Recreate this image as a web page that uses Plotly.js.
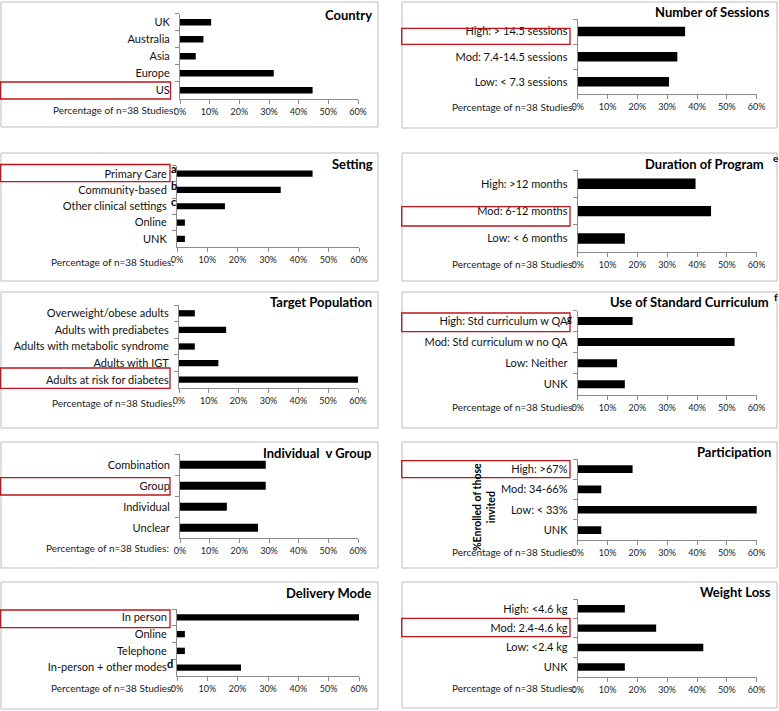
<!DOCTYPE html>
<html>
<head>
<meta charset="utf-8">
<script src="https://cdn.plot.ly/plotly-3.0.1.min.js"></script>
<style>
  html, body { margin: 0; padding: 0; background: #ffffff; }
  #chart { width: 779px; height: 711px; }
</style>
</head>
<body>
<div id="chart"></div>
<script>
// ---------------- DATA ----------------
const countryCats = ["UK", "Australia", "Asia", "Europe", "US"];
const countryVals = [10.5, 7.9, 5.3, 31.6, 44.7];

const settingCats = ["Primary Care", "Community-based", "Other clinical settings", "Online", "UNK"];
const settingVals = [44.7, 34.2, 15.8, 2.6, 2.6];

const targetCats = ["Overweight/obese adults", "Adults with prediabetes", "Adults with metabolic syndrome", "Adults with IGT", "Adults at risk for diabetes"];
const targetVals = [5.3, 15.8, 5.3, 13.2, 60.5];

const indivCats = ["Combination", "Group", "Individual", "Unclear"];
const indivVals = [28.9, 28.9, 15.8, 26.3];

const deliveryCats = ["In person", "Online", "Telephone", "In-person + other modes"];
const deliveryVals = [60.5, 2.6, 2.6, 21.1];

const sessionsCats = ["High: > 14.5 sessions", "Mod: 7.4-14.5 sessions", "Low: < 7.3 sessions"];
const sessionsVals = [36.0, 33.4, 30.6];

const durationCats = ["High: >12 months", "Mod: 6-12 months", "Low: < 6 months"];
const durationVals = [39.5, 44.7, 15.8];

const curriculumCats = ["High: Std curriculum w QA", "Mod: Std curriculum w no QA", "Low: Neither", "UNK"];
const curriculumVals = [18.4, 52.6, 13.2, 15.8];

const participationCats = ["High: >67%", "Mod: 34-66%", "Low: < 33%", "UNK"];
const participationVals = [18.4, 7.9, 60.5, 7.9];

const weightCats = ["High: <4.6 kg", "Mod: 2.4-4.6 kg", "Low: <2.4 kg", "UNK"];
const weightVals = [15.8, 26.3, 42.1, 15.8];

const xTickVals = [0, 10, 20, 30, 40, 50, 60];
const xTickText = ["0%", "10%", "20%", "30%", "40%", "50%", "60%"];
const axisNote = "Percentage of n=38 Studies:";

// ---------------- LAYOUT (pixel positions) ----------------
const W = 779, H = 711;
const FONT = "Lato, 'Open Sans', 'DejaVu Sans', sans-serif";
const px = v => v / W;
const py = v => 1 - v / H;

const panels = [
  {cats: countryCats, vals: countryVals, title: "Country",
   x0: 180, x1: 358, yt: 13.8, yb: 98.8, tickY: 110, titleX: 374, titleY: 15, noteX: 178,
   box: [1, 2, 378, 127], red: [0.5, 82, 170.5, 99], shift: 0},
  {cats: settingCats, vals: settingVals, title: "Setting",
   x0: 177, x1: 359, yt: 165.5, yb: 247, tickY: 262, titleX: 375, titleY: 164, noteX: 176,
   box: [1, 153, 378, 281], red: [0.5, 164.5, 170, 181.7], shift: 0},
  {cats: targetCats, vals: targetVals, title: "Target Population",
   x0: 179, x1: 358, yt: 305, yb: 388, tickY: 403, titleX: 374, titleY: 302, noteX: 177,
   box: [1, 292, 378, 428], red: [0.5, 368, 170, 388.3], shift: 0},
  {cats: indivCats, vals: indivVals, title: "Individual  v Group",
   x0: 180, x1: 358, yt: 454.3, yb: 538.3, tickY: 548, titleX: 373, titleY: 453, noteX: 171,
   box: [1, 442, 378, 568], red: [0.5, 477.7, 170, 495], shift: 0},
  {cats: deliveryCats, vals: deliveryVals, title: "Delivery Mode",
   x0: 177, x1: 359, yt: 609, yb: 676, tickY: 688, titleX: 373, titleY: 593, noteX: 176,
   box: [1, 582, 378, 709], red: [0.5, 610, 170, 627.7], shift: 0},
  {cats: sessionsCats, vals: sessionsVals, title: "Number of Sessions",
   x0: 577.7, x1: 756.7, yt: 19, yb: 94.3, tickY: 107, titleX: 772, titleY: 12, noteX: 577,
   box: [402, 2, 777, 128], red: [401.7, 28.3, 570, 44.3], shift: 4.5},
  {cats: durationCats, vals: durationVals, title: "Duration of Program",
   x0: 577.7, x1: 756.7, yt: 170, yb: 252.3, tickY: 264, titleX: 766, titleY: 164, noteX: 577,
   box: [402, 153, 777, 281], red: [401.7, 206.7, 570, 226], shift: 5.5},
  {cats: curriculumCats, vals: curriculumVals, title: "Use of Standard Curriculum",
   x0: 577.7, x1: 756.7, yt: 310.5, yb: 394.8, tickY: 407, titleX: 771, titleY: 302, noteX: 577,
   box: [402, 292, 777, 428], red: [401.7, 313, 570, 331.7], shift: 2.5},
  {cats: participationCats, vals: participationVals, title: "Participation",
   x0: 577.7, x1: 756.7, yt: 459, yb: 540.2, tickY: 552, titleX: 773, titleY: 452, noteX: 577,
   box: [402, 442, 777, 568], red: [401.7, 460.7, 570, 477.7], shift: 2.5},
  {cats: weightCats, vals: weightVals, title: "Weight Loss",
   x0: 577.7, x1: 756.7, yt: 599, yb: 676.7, tickY: 688, titleX: 773, titleY: 592, noteX: 577,
   box: [402, 582, 777, 708], red: [401.7, 618.3, 570, 636.7], shift: 0}
];

const data = [];
const layout = {
  width: W, height: H,
  margin: {l: 0, r: 0, t: 0, b: 0, pad: 0},
  paper_bgcolor: "#ffffff",
  plot_bgcolor: "rgba(0,0,0,0)",
  showlegend: false,
  font: {family: FONT, color: "#111111"},
  annotations: [],
  shapes: []
};

panels.forEach((p, i) => {
  const n = i + 1;
  const xa = "x" + n, ya = "y" + n;
  data.push({
    type: "bar", orientation: "h",
    x: p.vals, y: p.cats,
    xaxis: xa, yaxis: ya,
    width: 0.38,
    marker: {color: "#000000"},
    hoverinfo: "skip"
  });
  const standoff = Math.max(0, (p.tickY - p.yb) - 11.5);
  layout["xaxis" + n] = {
    domain: [px(p.x0), px(p.x1)],
    anchor: ya,
    range: [0, 60],
    tickmode: "array", tickvals: xTickVals, ticktext: xTickText,
    showgrid: false, zeroline: false,
    showline: true, linecolor: "#8c8c8c", linewidth: 1,
    ticks: "outside", ticklen: 4, tickcolor: "#8c8c8c",
    tickfont: {size: 9, family: FONT, color: "#222222"},
    ticklabelstandoff: standoff,
    fixedrange: true
  };
  layout["yaxis" + n] = {
    domain: [py(p.yb), py(p.yt)],
    anchor: xa,
    type: "category",
    categoryorder: "array", categoryarray: p.cats,
    range: [p.cats.length - 0.5, -0.5],
    tickson: "boundaries",
    showgrid: false, zeroline: false,
    showline: true, linecolor: "#8c8c8c", linewidth: 1,
    ticks: "outside", ticklen: 4, tickcolor: "#8c8c8c",
    tickfont: {size: 11, family: FONT, color: "#111111"},
    ticklabelshift: p.shift,
    ticklabelstandoff: 7,
    fixedrange: true
  };
  // panel border
  layout.shapes.push({
    type: "rect", xref: "paper", yref: "paper", layer: "below",
    x0: px(p.box[0]), x1: px(p.box[2]), y0: py(p.box[3]), y1: py(p.box[1]),
    line: {color: "#bdbdbd", width: 1}, fillcolor: "rgba(0,0,0,0)"
  });
  // red highlight box
  layout.shapes.push({
    type: "rect", xref: "paper", yref: "paper", layer: "above",
    x0: px(p.red[0]), x1: px(p.red[2]), y0: py(p.red[3]), y1: py(p.red[1]),
    line: {color: "#c0141c", width: 1.3}, fillcolor: "rgba(0,0,0,0)"
  });
  // panel title
  layout.annotations.push({
    xref: "paper", yref: "paper", x: px(p.titleX), y: py(p.titleY),
    xanchor: "right", yanchor: "middle", showarrow: false,
    text: "<b>" + p.title + "</b>",
    font: {size: 13, family: FONT, color: "#000000"}
  });
  // axis note
  layout.annotations.push({
    xref: "paper", yref: "paper", x: px(p.noteX), y: py(p.tickY),
    xanchor: "right", yanchor: "middle", showarrow: false,
    text: axisNote,
    font: {size: 10, family: FONT, color: "#222222"}
  });
});

// superscript footnote letters
const notes = [
  {t: "a", x: 173.5, y: 168, s: 11},
  {t: "b", x: 173.5, y: 185, s: 11},
  {t: "c", x: 173.5, y: 201, s: 11},
  {t: "d", x: 170, y: 663, s: 11},
  {t: "e", x: 776, y: 158, s: 10},
  {t: "f", x: 776, y: 297, s: 10},
  {t: "g", x: 569, y: 319, s: 9}
];
notes.forEach(nt => layout.annotations.push({
  xref: "paper", yref: "paper", x: px(nt.x), y: py(nt.y),
  xanchor: "center", yanchor: "middle", showarrow: false,
  text: "<b>" + nt.t + "</b>", font: {size: nt.s, family: FONT, color: "#000000"}
}));

// rotated participation axis label
layout.annotations.push({
  xref: "paper", yref: "paper", x: px(484), y: py(507),
  xanchor: "center", yanchor: "middle", showarrow: false,
  textangle: -90, align: "center",
  text: "<b>%Enrolled of those<br>invited</b>",
  font: {size: 10.5, family: FONT, color: "#000000"}
});

Plotly.newPlot("chart", data, layout, {displayModeBar: false, staticPlot: true});
</script>
</body>
</html>
